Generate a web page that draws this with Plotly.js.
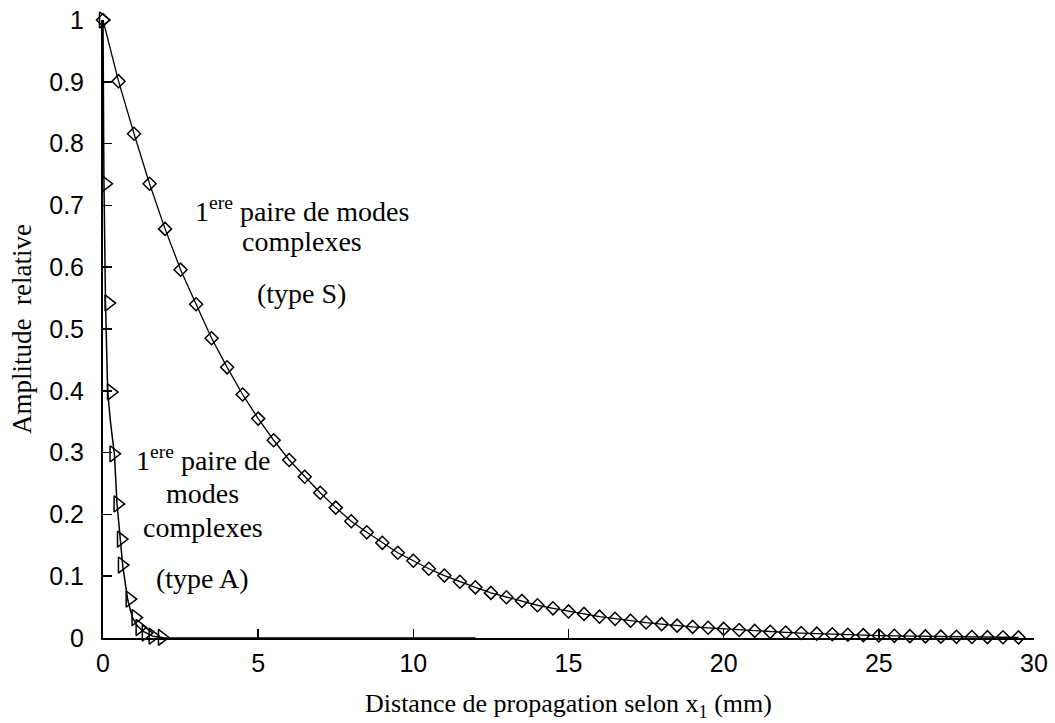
<!DOCTYPE html>
<html>
<head>
<meta charset="utf-8">
<script src="https://cdn.plot.ly/plotly-3.0.1.min.js"></script>
<style>html,body{margin:0;padding:0;background:#fff;}#chart{width:1055px;height:723px;}</style>
</head>
<body>
<div id="chart"></div>
<script>
// Type S (1ere paire de modes complexes, type S) - diamonds
var sX = [0,0.5,1,1.5,2,2.5,3,3.5,4,4.5,5,5.5,6,6.5,7,7.5,8,8.5,9,9.5,10,10.5,11,11.5,12,12.5,13,13.5,14,14.5,15,15.5,16,16.5,17,17.5,18,18.5,19,19.5,20,20.5,21,21.5,22,22.5,23,23.5,24,24.5,25,25.5,26,26.5,27,27.5,28,28.5,29,29.5];
var sY = [1.000,0.901,0.816,0.735,0.662,0.596,0.540,0.485,0.438,0.394,0.355,0.320,0.288,0.261,0.235,0.211,0.189,0.171,0.154,0.138,0.125,0.112,0.101,0.091,0.082,0.073,0.066,0.060,0.053,0.048,0.043,0.039,0.0345,0.031,0.028,0.025,0.0225,0.020,0.018,0.0165,0.0148,0.013,0.0115,0.010,0.009,0.008,0.007,0.006,0.0053,0.0047,0.004,0.0035,0.003,0.0026,0.0022,0.0019,0.0016,0.0014,0.0012,0.001];

// Type A curve (line) and its triangle markers
var aLineX = [0,0.01,0.03,0.08,0.15,0.24,0.31,0.37,0.45,0.57,0.64,0.80,0.94,1.10,1.28,1.60,2.00,12];
var aLineY = [1,0.88,0.74,0.545,0.40,0.35,0.32,0.296,0.218,0.159,0.115,0.061,0.034,0.020,0.011,0.003,0,0];
var aMkX = [0,0.08,0.18,0.26,0.34,0.47,0.58,0.61,0.86,1.05,1.18,1.38,1.6,1.9];
var aMkY = [1.0,0.735,0.542,0.398,0.298,0.217,0.160,0.118,0.063,0.033,0.017,0.008,0.003,0.001];

var xTicks = [0,5,10,15,20,25,30];
var yTicks = [0,0.1,0.2,0.3,0.4,0.5,0.6,0.7,0.8,0.9,1];

var serif = '"Liberation Serif", "Times New Roman", serif';
var sans = '"Liberation Sans", Arial, sans-serif';

var traces = [
  {x: aLineX, y: aLineY, type: 'scatter', mode: 'lines', line: {color: '#000', width: 1.5}, hoverinfo: 'skip', cliponaxis: false},
  {x: aMkX, y: aMkY, type: 'scatter', mode: 'markers', marker: {symbol: 'triangle-right-open', size: 14, color: '#000', line: {width: 1.5, color: '#000'}}, cliponaxis: false},
  {x: sX, y: sY, type: 'scatter', mode: 'lines+markers', line: {color: '#000', width: 1.3},
   marker: {symbol: 'diamond-open', size: 10, color: '#000', line: {width: 1.5, color: '#000'}}, cliponaxis: false}
];

var annFont = {family: serif, size: 28, color: '#000'};
var layout = {
  width: 1055, height: 723,
  margin: {l: 103, r: 21, t: 20, b: 85},
  paper_bgcolor: '#fff', plot_bgcolor: '#fff',
  showlegend: false,
  xaxis: {
    range: [0, 30], tickvals: xTicks, ticks: 'inside', ticklen: 9, tickwidth: 1.5, tickcolor: '#000',
    showline: true, linecolor: '#000', linewidth: 2, mirror: false, showgrid: false, zeroline: false,
    tickfont: {family: sans, size: 25, color: '#000'}, ticklabelstandoff: 2,
    title: {text: 'Distance de propagation selon x<sub>1</sub> (mm)', font: {family: serif, size: 26, color: '#000'}, standoff: 18}
  },
  yaxis: {
    range: [0, 1], tickvals: yTicks, ticks: 'inside', ticklen: 9, tickwidth: 1.5, tickcolor: '#000',
    showline: true, linecolor: '#000', linewidth: 2, mirror: false, showgrid: false, zeroline: false,
    tickfont: {family: sans, size: 25, color: '#000'}, ticklabelstandoff: 12,
    title: {text: 'Amplitude  relative', font: {family: serif, size: 27, color: '#000'}, standoff: 10}
  },
  annotations: [
    {x: 6.41, y: 0.693, xref: 'x', yref: 'y', text: '1<sup>ere</sup> paire de modes', showarrow: false, font: annFont, xanchor: 'center', yanchor: 'middle'},
    {x: 6.41, y: 0.641, xref: 'x', yref: 'y', text: 'complexes', showarrow: false, font: annFont, xanchor: 'center', yanchor: 'middle'},
    {x: 6.41, y: 0.558, xref: 'x', yref: 'y', text: '(type S)', showarrow: false, font: annFont, xanchor: 'center', yanchor: 'middle'},
    {x: 3.21, y: 0.291, xref: 'x', yref: 'y', text: '1<sup>ere</sup> paire de', showarrow: false, font: annFont, xanchor: 'center', yanchor: 'middle'},
    {x: 3.21, y: 0.2346, xref: 'x', yref: 'y', text: 'modes', showarrow: false, font: annFont, xanchor: 'center', yanchor: 'middle'},
    {x: 3.21, y: 0.1796, xref: 'x', yref: 'y', text: 'complexes', showarrow: false, font: annFont, xanchor: 'center', yanchor: 'middle'},
    {x: 3.21, y: 0.097, xref: 'x', yref: 'y', text: '(type A)', showarrow: false, font: annFont, xanchor: 'center', yanchor: 'middle'}
  ]
};

Plotly.newPlot('chart', traces, layout, {displayModeBar: false, staticPlot: true});
</script>
</body>
</html>
